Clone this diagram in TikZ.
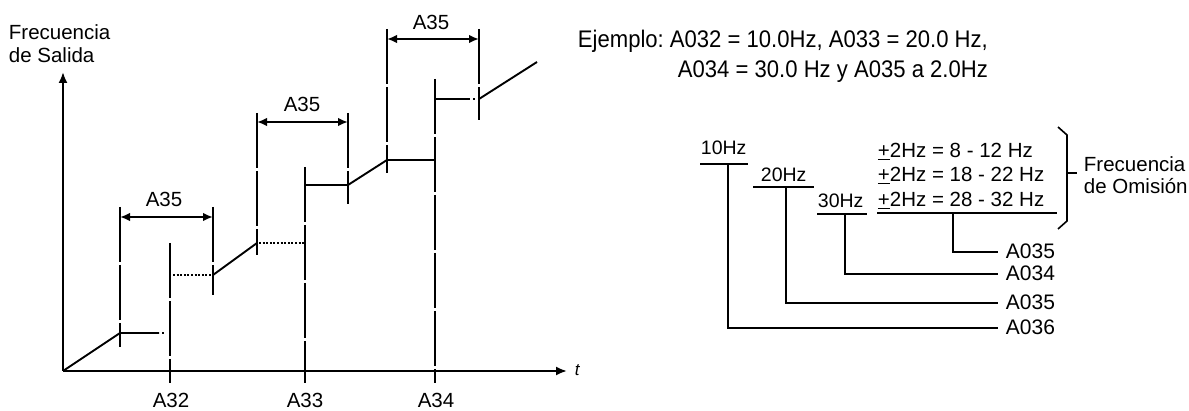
\documentclass[tikz,border=0pt]{standalone}
\usepackage{fontspec}
\setmainfont{Liberation Sans}
\newfontfamily\narrowfont[FakeStretch=0.92]{Liberation Sans}
\usetikzlibrary{arrows.meta}
\frenchspacing
\begin{document}
\begin{tikzpicture}[x=1pt,y=-1pt, line width=1.9pt,
  ax/.style={line width=2pt,-{Latex[length=11pt,width=9pt]}},
  dimline/.style={line width=1.9pt,{Latex[length=10pt,width=8.5pt]}-{Latex[length=10pt,width=8.5pt]}},
  cl/.style={line width=1.9pt, dash pattern=on 55pt off 3pt},
  dotline/.style={line width=1.6pt, dash pattern=on 2pt off 1.6pt},
  curve/.style={line width=1.9pt},
  conn/.style={line width=1.7pt},
  lbl/.style={font=\fontsize{20.5}{22}\selectfont, inner sep=0pt},
  rlbl/.style={font=\fontsize{19.5}{21}\selectfont, inner sep=0pt, anchor=base west},
  rng/.style={font=\fontsize{20.5}{22}\selectfont, inner sep=0pt, anchor=base west},
  alb/.style={font=\fontsize{21}{22}\selectfont, inner sep=0pt, anchor=base west},
  big/.style={font=\fontsize{20.5}{23}\selectfont, inner sep=0pt, anchor=base west},
  ej/.style={font=\narrowfont\fontsize{24}{28}\selectfont, inner sep=0pt, anchor=base west},
]
\useasboundingbox (0,0) rectangle (1189,411);

% ---------- left chart ----------
\coordinate (O) at (63,371);
\coordinate (ytop) at (63,72);
\coordinate (xend) at (567,371);
\draw[ax] (O) -- (ytop);
\draw[ax] (O) -- (xend);
\node[font=\itshape\fontsize{17}{19}\selectfont, inner sep=0pt, anchor=base west] (t) at (574,376) {t};

\node[big] (ylab1) at (8,40) {Frecuencia};
\node[big] (ylab2) at (8,63) {de Salida};

% vertical centre lines
\draw[cl] (170,243) -- (170,383);
\draw[cl] (305,167) -- (305,383);
\draw[cl] (435,79) -- (435,383);
\draw[cl] (120,207) -- (120,347);
\draw[cl] (213,207) -- (213,295);
\draw[cl] (257,113) -- (257,255);
\draw[cl] (348,113) -- (348,204);
\draw[cl] (387,29) -- (387,173);
\draw[cl] (479,29) -- (479,120);

% dimension arrows
\draw[dimline] (120,217) -- (213,217);
\draw[dimline] (257,122) -- (348,122);
\draw[dimline] (387,39) -- (479,39);
\node[lbl, anchor=base] (d1) at (164,207) {A35};
\node[lbl, anchor=base] (d2) at (302,112) {A35};
\node[lbl, anchor=base] (d3) at (431,30) {A35};

% output frequency curve
\draw[curve] (O) -- (120,333) -- (159,333);
\draw[curve] (162,333) -- (164,333);
\draw[dotline] (173,275) -- (213,275);
\draw[curve] (213,275) -- (257,243);
\draw[dotline] (259,243) -- (305,243);
\draw[curve] (305,185) -- (348,185) -- (387,160) -- (435,160);
\draw[curve] (435,99) -- (470,99);
\draw[curve] (473,99) -- (475,99);
\draw[curve] (479,99) -- (537,62);

\node[lbl, anchor=base] (a32) at (171,408) {A32};
\node[lbl, anchor=base] (a33) at (305,408) {A33};
\node[lbl, anchor=base] (a34) at (436,408) {A34};

% ---------- example text ----------
\node[ej] (ej1) at (577,48) {Ejemplo: A032 = 10.0Hz, A033 = 20.0 Hz,};
\node[ej] (ej2) at (677,78) {A034 = 30.0 Hz y A035 a 2.0Hz};

% ---------- right diagram ----------
\node[rlbl] (h10) at (700,155) {10Hz};
\node[rlbl] (h20) at (760,182) {20Hz};
\node[rlbl] (h30) at (817,208) {30Hz};
\node[rng] (r1) at (877,158) {\underline{+}2Hz = 8 - 12 Hz};
\node[rng] (r2) at (877,182) {\underline{+}2Hz = 18 - 22 Hz};
\node[rng] (r3) at (877,207) {\underline{+}2Hz = 28 - 32 Hz};

\draw[conn] (700,164) -- (748,164);
\draw[conn] (753,187) -- (814,187);
\draw[conn] (817,214) -- (867,214);
\draw[conn] (877,213) -- (1057,213);

\node[alb] (o1) at (1005,259) {A035};
\node[alb] (o2) at (1005,281) {A034};
\node[alb] (o3) at (1005,310) {A035};
\node[alb] (o4) at (1005,335) {A036};

\draw[conn] (953,213) |- ([xshift=-7pt]o1.west |- 0,252);
\draw[conn] (845,214) |- ([xshift=-7pt]o2.west |- 0,274);
\draw[conn] (786,187) |- ([xshift=-7pt]o3.west |- 0,303);
\draw[conn] (728,164) |- ([xshift=-7pt]o4.west |- 0,328);

% brace
\draw[line width=1.6pt] (1058,127) -- (1067,135) -- (1067,221) -- (1058,229);
\draw[line width=1.6pt] (1067,173) -- (1077,173);
\node[big] (om1) at (1083,172) {Frecuencia};
\node[big] (om2) at (1083,194) {de Omisión};
\end{tikzpicture}
\end{document}
